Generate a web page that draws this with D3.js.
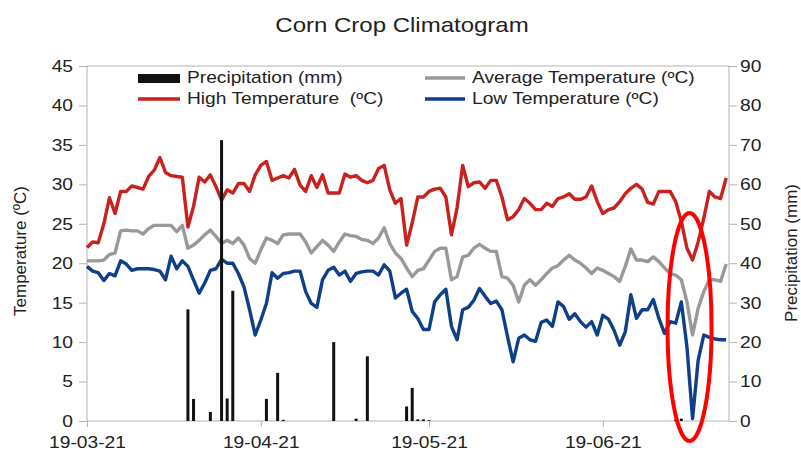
<!DOCTYPE html>
<html>
<head>
<meta charset="utf-8">
<script src="https://cdn.jsdelivr.net/npm/d3@7"></script>
<style>
  body { margin: 0; background: #fff; }
  svg text { font-family: "Liberation Sans", Arial, sans-serif; fill: #222; }
</style>
</head>
<body>
<script>
// daily series, starting 19 March 2021
var startDay = new Date(2021, 2, 19);

var highTemp = [
  22.0, 22.7, 22.6, 25.0, 28.3, 26.3, 29.1, 29.1, 29.8, 29.6,
  29.4, 31.0, 31.8, 33.4, 31.5, 31.1, 31.0, 30.9, 24.6, 27.2,
  30.9, 30.3, 31.2, 29.7, 28.0, 29.3, 28.9, 30.1, 30.1, 29.1,
  31.2, 32.4, 32.9, 30.5, 30.8, 31.1, 30.8, 31.9, 29.9, 29.1,
  31.1, 29.6, 31.2, 28.9, 28.9, 28.9, 31.3, 30.9, 31.1, 30.5,
  30.2, 30.5, 32.0, 32.4, 29.3, 27.6, 28.2, 22.3, 25.1, 28.4,
  28.4, 29.1, 29.4, 29.5, 28.4, 23.6, 27.0, 32.4, 29.7, 30.2,
  30.3, 29.5, 30.5, 30.5, 28.4, 25.5, 25.9, 26.8, 28.2, 27.6,
  26.8, 26.8, 27.6, 27.2, 28.2, 28.4, 28.8, 28.1, 28.1, 28.4,
  29.8, 27.8, 26.3, 26.8, 27.0, 27.8, 28.8, 29.5, 30.0, 29.4,
  27.7, 27.5, 29.1, 29.1, 29.1, 27.8, 25.3, 21.9, 20.4, 22.7,
  25.7, 29.1, 28.4, 28.2, 30.8
];

var avgTemp = [
  20.3, 20.3, 20.3, 20.4, 21.1, 21.3, 24.1, 24.2, 24.1, 24.1,
  23.7, 24.4, 24.8, 24.8, 24.8, 24.8, 24.0, 24.8, 21.9, 22.3,
  22.9, 23.6, 24.2, 23.4, 22.5, 22.9, 22.5, 23.2, 22.3, 20.6,
  20.0, 21.7, 23.2, 22.9, 22.5, 23.6, 23.7, 23.7, 23.7, 22.7,
  21.3, 22.1, 22.9, 22.3, 21.5, 22.7, 23.7, 23.5, 23.4, 23.0,
  22.9, 22.5, 23.2, 24.5, 22.5, 21.3, 20.6, 19.4, 18.3, 19.1,
  19.3, 20.4, 21.5, 21.9, 21.9, 17.9, 18.3, 20.8, 21.0, 21.9,
  22.4, 21.9, 21.5, 21.5, 18.3, 18.1, 17.2, 15.1, 17.2, 17.9,
  17.2, 17.9, 18.7, 19.4, 19.7, 20.4, 21.0, 20.4, 20.0, 19.4,
  18.7, 19.4, 19.1, 18.7, 18.3, 17.7, 19.6, 21.8, 20.4, 20.4,
  20.2, 20.8, 20.2, 19.4, 18.7, 18.5, 17.9, 15.1, 10.9, 14.3,
  16.4, 17.9, 17.9, 17.7, 19.9
];

var lowTemp = [
  19.6, 19.0, 18.8, 17.8, 18.7, 18.4, 20.3, 19.9, 19.1, 19.3,
  19.3, 19.3, 19.2, 19.0, 17.9, 20.9, 19.3, 20.3, 19.6, 17.9,
  16.2, 17.5, 19.1, 19.3, 20.5, 20.0, 20.0, 18.7, 17.0, 14.1,
  10.9, 12.8, 14.9, 18.8, 18.1, 18.7, 18.8, 19.0, 19.0, 16.4,
  14.9, 14.4, 17.9, 19.1, 19.5, 18.5, 19.0, 17.7, 18.7, 18.9,
  19.0, 19.0, 18.5, 19.8, 19.0, 15.6, 16.2, 16.7, 13.9, 13.0,
  11.6, 11.6, 15.1, 16.0, 16.7, 12.0, 10.3, 14.1, 14.4, 15.3,
  16.8, 15.8, 14.9, 15.2, 14.1, 10.7, 7.5, 10.5, 10.9, 10.3,
  10.1, 12.5, 12.8, 12.0, 15.1, 14.5, 12.9, 13.6, 12.6, 11.9,
  12.6, 10.9, 13.4, 12.9, 11.5, 9.6, 11.3, 16.0, 13.0, 14.1,
  14.1, 15.4, 13.0, 11.1, 12.6, 12.4, 15.1, 9.4, 0.3, 7.7,
  10.9, 10.6, 10.4, 10.3, 10.3
];

// rain days (days after start) and amounts
var rainDay = [18, 19, 22, 24, 25, 26, 32, 34, 35, 44, 48, 50, 57, 58, 59, 60, 61, 105, 106];
var rainMm  = [28.3, 5.6, 2.3, 71.2, 5.7, 33.0, 5.6, 12.2, 0.3, 20.0, 0.6, 16.4, 3.7, 8.4, 0.4, 0.4, 0.2, 0.4, 0.6];

var tempTicks = [0, 5, 10, 15, 20, 25, 30, 35, 40, 45];
var rainTicks = [0, 10, 20, 30, 40, 50, 60, 70, 80, 90];
var dateTicks = [new Date(2021, 2, 19), new Date(2021, 3, 19), new Date(2021, 4, 19), new Date(2021, 5, 19)];

var seriesNames = ['Precipitation (mm)', 'Average Temperature (ºC)', 'High Temperature  (ºC)', 'Low Temperature (ºC)'];

// colours
var cHigh = '#c9211e', cAvg = '#999999', cLow = '#0e3f88', cRain = '#111111', cFrame = '#b3b3b3';

var width = 801, height = 453;
var plotL = 87, plotR = 729, plotT = 66, plotB = 421;

// text in the picture is slightly stretched sideways
var stretch = 1.2;

var svg = d3.select('body').append('svg')
  .attr('width', width)
  .attr('height', height);

svg.append('rect').attr('width', width).attr('height', height).attr('fill', '#fff');

// scales
var x = d3.scaleTime()
  .domain([startDay, new Date(2021, 6, 11, 12)])
  .range([plotL, plotR]);
var yT = d3.scaleLinear().domain([0, 45]).range([plotB, plotT]);
var yP = d3.scaleLinear().domain([0, 90]).range([plotB, plotT]);

function dayDate(i) { return d3.timeDay.offset(startDay, i); }

function addText(parent, px, py, str, anchor, size) {
  return parent.append('text')
    .attr('transform', 'translate(' + px + ',' + py + ') scale(' + stretch + ',1)')
    .attr('text-anchor', anchor)
    .attr('dominant-baseline', 'central')
    .style('font-size', size + 'px')
    .style('white-space', 'pre')
    .text(str);
}

// stretch axis labels like the rest of the text
function fixAxisText(g) {
  g.selectAll('text').each(function() {
    var t = d3.select(this);
    var tx = +t.attr('x') || 0, ty = +t.attr('y') || 0;
    t.attr('x', 0).attr('y', 0)
      .attr('transform', 'translate(' + tx + ',' + ty + ') scale(' + stretch + ',1)')
      .style('font-size', '16px');
  });
  g.selectAll('line').attr('stroke', cFrame);
  g.select('.domain').remove();
}

// frame
svg.append('rect')
  .attr('x', plotL).attr('y', plotT)
  .attr('width', plotR - plotL).attr('height', plotB - plotT)
  .attr('fill', 'none').attr('stroke', cFrame).attr('stroke-width', 1);

// axes
svg.append('g')
  .attr('transform', 'translate(' + plotL + ',0)')
  .call(d3.axisLeft(yT).tickValues(tempTicks).tickSize(8).tickPadding(6))
  .call(fixAxisText)
  .selectAll('text').attr('dy', null).attr('dominant-baseline', 'central');

svg.append('g')
  .attr('transform', 'translate(' + plotR + ',0)')
  .call(d3.axisRight(yP).tickValues(rainTicks).tickSize(8).tickPadding(3))
  .call(fixAxisText)
  .selectAll('text').attr('dy', null).attr('dominant-baseline', 'central');

svg.append('g')
  .attr('transform', 'translate(0,' + plotB + ')')
  .call(d3.axisBottom(x).tickValues(dateTicks).tickFormat(d3.timeFormat('%d-%m-%y')).tickSize(6).tickPadding(10).tickSizeOuter(0))
  .call(fixAxisText);

// temperature lines
var line = d3.line()
  .x(function(d, i) { return x(dayDate(i)); })
  .y(function(d) { return yT(d); });

[[avgTemp, cAvg], [highTemp, cHigh], [lowTemp, cLow]].forEach(function(s) {
  svg.append('path')
    .datum(s[0])
    .attr('d', line)
    .attr('fill', 'none')
    .attr('stroke', s[1])
    .attr('stroke-width', 3.4)
    .attr('stroke-linejoin', 'round');
});

// precipitation bars
svg.append('g').selectAll('rect')
  .data(rainDay)
  .enter().append('rect')
  .attr('x', function(d) { return x(dayDate(d)) - 1.5; })
  .attr('y', function(d, i) { return yP(rainMm[i]); })
  .attr('width', 3)
  .attr('height', function(d, i) { return plotB - yP(rainMm[i]); })
  .attr('fill', cRain);

// legend
var legend = svg.append('g');
legend.append('rect').attr('x', 138).attr('y', 74).attr('width', 42).attr('height', 9).attr('fill', cRain);
addText(legend, 187, 78, seriesNames[0], 'start', 16);
legend.append('line').attr('x1', 425).attr('x2', 465).attr('y1', 78).attr('y2', 78).attr('stroke', cAvg).attr('stroke-width', 3.5);
addText(legend, 472, 78, seriesNames[1], 'start', 16);
legend.append('line').attr('x1', 138).attr('x2', 180).attr('y1', 99).attr('y2', 99).attr('stroke', cHigh).attr('stroke-width', 3.5);
addText(legend, 187, 99, seriesNames[2], 'start', 16);
legend.append('line').attr('x1', 425).attr('x2', 465).attr('y1', 99).attr('y2', 99).attr('stroke', cLow).attr('stroke-width', 3.5);
addText(legend, 472, 99, seriesNames[3], 'start', 16);

// title
addText(svg, 402, 25, 'Corn Crop Climatogram', 'middle', 20);

// axis titles
svg.append('text')
  .attr('transform', 'translate(20,251) rotate(-90)')
  .attr('text-anchor', 'middle')
  .attr('dominant-baseline', 'central')
  .style('font-size', '17px')
  .text('Temperature (ºC)');

svg.append('text')
  .attr('transform', 'translate(791,253) rotate(-90)')
  .attr('text-anchor', 'middle')
  .attr('dominant-baseline', 'central')
  .style('font-size', '17px')
  .text('Precipitation (mm)');

// red ellipse around the cold spell
svg.append('ellipse')
  .attr('cx', x(dayDate(108)) - 3)
  .attr('cy', 327)
  .attr('rx', 22)
  .attr('ry', 114)
  .attr('fill', 'none')
  .attr('stroke', '#ff0000')
  .attr('stroke-width', 4);
</script>
</body>
</html>
